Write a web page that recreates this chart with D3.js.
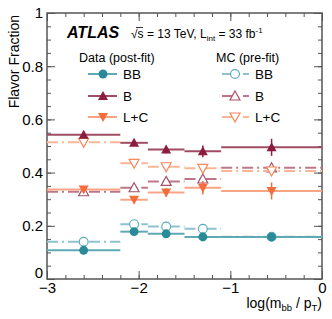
<!DOCTYPE html>
<html>
<head>
<meta charset="utf-8">
<script src="https://cdn.jsdelivr.net/npm/d3@7"></script>
<style>
  body { margin: 0; background: #fff; }
  svg { font-family: "Liberation Sans", Arial, sans-serif; }
  .axis path { stroke: #555; stroke-width: 1.5; }
  .axis line { stroke: #555; stroke-width: 1; }
  .axis text { font-size: 15px; fill: #000; }
</style>
</head>
<body>
<svg width="332" height="319"></svg>
<script>
// bins in log(mbb/pT)
var binEdges = [-3, -2.2, -1.9, -1.5, -1.1, 0];

// data (post-fit)
var dataBB = [0.108, 0.178, 0.170, 0.158, 0.158];
var dataB = [0.542, 0.512, 0.487, 0.480, 0.495];
var dataLC = [0.336, 0.298, 0.325, 0.343, 0.331];
var errBB = [0.004, 0.005, 0.006, 0.006, 0.008];
var errB = [0.012, 0.012, 0.014, 0.022, 0.032];
var errLC = [0.010, 0.012, 0.015, 0.025, 0.032];

// MC (pre-fit)
var mcBB = [0.140, 0.206, 0.197, 0.189, 0.159];
var mcB = [0.328, 0.343, 0.367, 0.376, 0.418];
var mcLC = [0.514, 0.435, 0.422, 0.416, 0.406];

var yTicks = [0, 0.2, 0.4, 0.6, 0.8, 1];
var xTicks = [-3, -2, -1, 0];

var svg = d3.select("svg"),
    margin = {top: 13, right: 10, bottom: 40, left: 47},
    width = 332 - margin.left - margin.right,
    height = 319 - margin.top - margin.bottom;

var x = d3.scaleLinear().domain([-3, 0]).range([0, width]),
    y = d3.scaleLinear().domain([0, 1]).range([height, 0]);

var g = svg.append("g")
    .attr("transform", "translate(" + margin.left + "," + margin.top + ")");

// MC first so data sits on top
var series = [
  {vals: mcBB, mc: true, marker: "circle", line: "#8cc4cd", fill: "#5aaebb", row: 0},
  {vals: mcB, mc: true, marker: "up", line: "#bd7687", fill: "#a8506a", row: 1},
  {vals: mcLC, mc: true, marker: "down", line: "#fbb698", fill: "#f7875c", row: 2},
  {vals: dataBB, err: errBB, mc: false, marker: "circle", line: "#5ea9b4", fill: "#2a8a98", row: 0},
  {vals: dataB, err: errB, mc: false, marker: "up", line: "#a04c62", fill: "#8c1d3e", row: 1},
  {vals: dataLC, err: errLC, mc: false, marker: "down", line: "#f9a585", fill: "#f46d3c", row: 2}
];

function markerPath(type) {
  if (type === "circle") return d3.symbol(d3.symbolCircle, 62)();
  if (type === "up") return "M0,-5L5,4L-5,4Z";
  return "M0,5L5,-4L-5,-4Z";
}

// frame ticks (inside, all four sides)
var minorY = d3.range(0, 1.001, 0.05), minorX = d3.range(-3, 0.001, 0.2);
function addAxis(axis, tr) {
  return g.append("g").attr("class", "axis").attr("transform", tr).call(axis);
}
addAxis(d3.axisLeft(y).tickValues(minorY).tickSize(-4).tickFormat(""), "");
addAxis(d3.axisRight(y).tickValues(minorY).tickSize(-4).tickFormat(""), "translate(" + width + ",0)");
addAxis(d3.axisBottom(x).tickValues(minorX).tickSize(-4).tickFormat(""), "translate(0," + height + ")");
addAxis(d3.axisTop(x).tickValues(minorX).tickSize(-4).tickFormat(""), "");
var yAx = addAxis(d3.axisLeft(y).tickValues(yTicks).tickSize(-8).tickPadding(4)
    .tickFormat(function(d) { return d === 0 || d === 1 ? d : d3.format(".1f")(d); }), "");
// nudge the "0" up so it clears the x label below it
yAx.selectAll(".tick text").filter(function(d) { return d === 0; }).attr("dy", "-0.1em");
addAxis(d3.axisRight(y).tickValues(yTicks).tickSize(-8).tickFormat(""), "translate(" + width + ",0)");
addAxis(d3.axisBottom(x).tickValues(xTicks).tickSize(-8).tickPadding(3)
    .tickFormat(function(d) { return d === 0 ? "0" : "\u2212" + Math.abs(d); }), "translate(0," + height + ")");
addAxis(d3.axisTop(x).tickValues(xTicks).tickSize(-8).tickFormat(""), "");
g.selectAll(".axis .domain").attr("d", null);
g.append("rect").attr("width", width).attr("height", height)
    .attr("fill", "none").attr("stroke", "#555").attr("stroke-width", 1.5);

// draw series: horizontal bin lines + markers
var bins = d3.range(binEdges.length - 1);
series.forEach(function(s) {
  var sg = g.append("g");
  sg.selectAll("line.h").data(bins).enter().append("line")
      .attr("x1", function(i) { return x(binEdges[i]); })
      .attr("x2", function(i) { return x(binEdges[i + 1]); })
      .attr("y1", function(i) { return y(s.vals[i]); })
      .attr("y2", function(i) { return y(s.vals[i]); })
      .attr("stroke", s.line).attr("stroke-width", 2)
      .attr("stroke-dasharray", s.mc ? "11,4,2,4" : null);
  if (s.err) {
    sg.selectAll("line.e").data(bins).enter().append("line")
        .attr("x1", function(i) { return x((binEdges[i] + binEdges[i + 1]) / 2); })
        .attr("x2", function(i) { return x((binEdges[i] + binEdges[i + 1]) / 2); })
        .attr("y1", function(i) { return y(s.vals[i] - s.err[i]); })
        .attr("y2", function(i) { return y(s.vals[i] + s.err[i]); })
        .attr("stroke", s.fill).attr("stroke-width", 1.5);
  }
  sg.selectAll("path").data(bins).enter().append("path")
      .attr("d", markerPath(s.marker))
      .attr("transform", function(i) {
        return "translate(" + x((binEdges[i] + binEdges[i + 1]) / 2) + "," + y(s.vals[i]) + ")";
      })
      .attr("fill", s.mc ? "#fff" : s.fill)
      .attr("stroke", s.fill).attr("stroke-width", s.mc ? 1.2 : 0);
});

// labels
svg.append("text").attr("x", 67).attr("y", 38)
    .style("font-size", "16px").style("font-weight", "bold").style("font-style", "italic")
    .text("ATLAS");
var lum = svg.append("text").attr("x", 131).attr("y", 38).style("font-size", "12px");
lum.append("tspan").text("\u221as = 13 TeV, L");
lum.append("tspan").attr("dy", 3).style("font-size", "8px").text("int");
lum.append("tspan").attr("dy", -3).text(" = 33 fb");
lum.append("tspan").attr("dy", -5).style("font-size", "8px").text("-1");
// sqrt bar
svg.append("line").attr("x1", 136).attr("x2", 143).attr("y1", 27.5).attr("y2", 27.5)
    .attr("stroke", "#000").attr("stroke-width", 0.8);

svg.append("text").attr("x", 79).attr("y", 62).style("font-size", "12.5px").text("Data (post-fit)");
svg.append("text").attr("x", 216).attr("y", 62).style("font-size", "12.5px").text("MC (pre-fit)");

var legNames = ["BB", "B", "L+C"], legY = [74, 96, 117];
series.forEach(function(s) {
  var lx = s.mc ? 222 : 88, ly = legY[s.row];
  svg.append("line").attr("x1", lx).attr("x2", lx + (s.mc ? 28 : 29))
      .attr("y1", ly).attr("y2", ly)
      .attr("stroke", s.line).attr("stroke-width", 2)
      .attr("stroke-dasharray", s.mc ? "11,10,6" : null);
  svg.append("path").attr("d", markerPath(s.marker))
      .attr("transform", "translate(" + (lx + (s.mc ? 13 : 15)) + "," + ly + ")")
      .attr("fill", s.mc ? "#fff" : s.fill)
      .attr("stroke", s.fill).attr("stroke-width", s.mc ? 1.2 : 0);
  svg.append("text").attr("x", s.mc ? 255 : 123).attr("y", ly + 5)
      .style("font-size", "13.5px").text(legNames[s.row]);
});

// axis titles
svg.append("text")
    .attr("transform", "translate(19," + (margin.top + 2) + ") rotate(-90)")
    .attr("text-anchor", "end").style("font-size", "14px")
    .text("Flavor Fraction");
var xt = svg.append("text").attr("x", 322).attr("y", 308)
    .attr("text-anchor", "end").style("font-size", "14px");
xt.append("tspan").text("log(m");
xt.append("tspan").attr("dy", 3).style("font-size", "9.5px").text("bb");
xt.append("tspan").attr("dy", -3).text(" / p");
xt.append("tspan").attr("dy", 3).style("font-size", "9.5px").text("T");
xt.append("tspan").attr("dy", -3).text(")");
</script>
</body>
</html>
